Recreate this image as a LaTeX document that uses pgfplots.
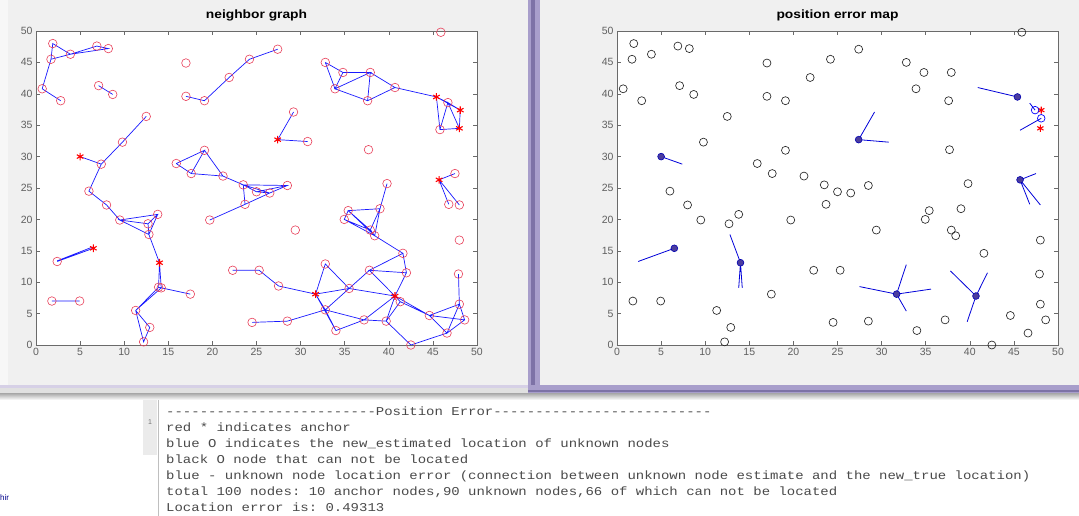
\documentclass[border=0pt]{standalone}
\usepackage{pgfplots}
\pgfplotsset{compat=1.18}
\usepackage{pgfplotstable}
\usepackage{graphicx}
\usepackage{fontspec}
\setmainfont{Liberation Sans}
\setmonofont{Liberation Mono}

\definecolor{figbg}{HTML}{F0F0F0}
\definecolor{axgray}{HTML}{6A6A6A}
\definecolor{ticktext}{HTML}{606060}
\definecolor{cmdtext}{HTML}{4A4A4A}
\definecolor{anchorfill}{HTML}{4B3C9E}
\definecolor{nodered}{HTML}{E8405A}
\definecolor{framepurple}{HTML}{A89ECB}
\definecolor{framedark}{HTML}{7D72A6}
\definecolor{framelight}{HTML}{D6D0E6}

% 66 nodes that can not be located (true positions)
\pgfplotstableread{
x y
1.9 48.0
1.7 45.5
3.9 46.3
6.9 47.6
8.2 47.2
0.7 40.8
2.8 38.9
7.1 41.3
8.7 39.9
12.5 36.4
9.8 32.3
17.0 44.9
17.0 39.6
19.1 38.9
19.1 31.0
15.9 28.9
17.6 27.3
21.2 26.9
6.0 24.5
45.9 49.8
27.4 47.1
24.2 45.5
21.9 42.6
32.8 45.0
34.8 43.4
37.9 43.4
33.9 40.8
37.6 38.9
37.7 31.1
23.5 25.5
25.0 24.4
26.5 24.2
28.5 25.4
39.8 25.7
8.0 22.3
9.5 19.9
13.8 20.8
12.7 19.3
19.7 19.9
1.8 7.0
4.95 7.0
17.5 8.1
11.3 5.5
12.9 2.8
12.2 0.5
23.7 22.4
35.4 21.4
34.95 20.0
39.0 21.7
29.4 18.3
37.9 18.3
38.4 17.4
41.6 14.6
48.0 16.7
47.9 11.3
48.0 6.5
48.6 4.0
46.6 1.9
44.6 4.7
42.5 0.0
37.2 4.0
34.0 2.3
28.5 3.8
24.5 3.6
22.3 11.9
25.3 11.9
}\lostnodes

% located unknown nodes (true positions)
\pgfplotstableread{
x y
7.4 28.8
2.4 13.3
12.8 17.6
13.9 9.2
14.2 9.1
29.2 37.1
30.8 32.4
27.5 9.4
35.5 9.0
32.8 12.9
32.8 5.6
37.8 11.9
42.0 11.5
39.7 3.8
40.7 41.0
45.8 34.3
46.7 38.6
47.5 27.3
48.0 22.3
46.8 22.4
41.3 6.9
}\locnodes

% anchors
\pgfplotstableread{
x y
5.0 30.0
6.5 15.4
14.0 13.1
27.4 32.7
31.7 8.1
40.7 7.8
45.4 39.5
48.1 37.4
48.0 34.5
45.7 26.3
}\anchornodes

% anchors drawn with an estimate on top (right plot)
\pgfplotstableread{
x y
5.0 30.0
6.5 15.4
14.0 13.1
27.4 32.7
31.7 8.1
40.7 7.8
45.4 39.5
45.7 26.3
}\anchorest

\pgfplotstableread{
x y
48.1 37.4
48.0 34.5
}\anchorplain

\pgfplotstableread{
x y
47.4 37.4
48.1 36.1
}\extraest

\pgfplotsset{myax/.style={
  scale only axis, width=441pt, height=314pt,
  xmin=0, xmax=50, ymin=0, ymax=50,
  xtick={0,5,...,50}, ytick={0,5,...,50},
  tick align=inside, major tick length=4pt,
  axis line style={axgray, line width=0.7pt},
  every tick/.style={axgray, line width=0.6pt},
  tick label style={font=\fontsize{10.5}{12}\selectfont, text=ticktext},
  /pgf/number format/assume math mode=true,
  axis background/.style={fill=white},
  clip=false,
  unbounded coords=jump,
  title style={font=\bfseries\fontsize{12}{14}\selectfont, at={(0.5,1)}, anchor=base, yshift=7pt},
  anchor=south west,
}}

\begin{document}
\begin{tikzpicture}
\useasboundingbox (0pt,0pt) rectangle (1079pt,-516pt);
\fill[white] (0pt,0pt) rectangle (1079pt,-516pt);
% left window
\fill[black!3] (0pt,0pt) rectangle (8pt,-386pt);
\fill[figbg] (8pt,0pt) rectangle (528pt,-386pt);
\fill[framelight] (0pt,-385pt) rectangle (528pt,-388pt);
\fill[black!12] (0pt,-388pt) rectangle (528pt,-394pt);
% right window
\fill[figbg] (540pt,0pt) rectangle (1079pt,-385pt);
\fill[framepurple] (528pt,0pt) rectangle (540pt,-393pt);
\fill[framedark] (531pt,0pt) rectangle (535pt,-390pt);
\fill[framepurple] (528pt,-385pt) rectangle (1079pt,-393pt);
\fill[framedark] (528pt,-390pt) rectangle (1079pt,-392pt);
\shade[top color=black!35, bottom color=white] (0pt,-393pt) rectangle (1079pt,-400pt);
% command window decorations
\fill[black!8] (143pt,-400pt) rectangle (157pt,-455pt);
\draw[black!25] (158pt,-400pt) -- (158pt,-516pt);
\node[anchor=base, inner sep=0pt, text=black!55, font=\fontsize{7}{8}\selectfont] at (150pt,-424pt) {1};
\node[anchor=base west, inner sep=0pt, text=blue!55!black, font=\fontsize{8}{9}\selectfont] at (0pt,-500pt) {hir};

% ---------------- left: neighbor graph ----------------
\begin{axis}[myax, at={(36pt,-345pt)}, title={\scalebox{1.15}[1]{neighbor graph}}]
\addplot[only marks, mark=o, nodered, mark size=4.3pt, mark options={line width=0.6pt}] table {\lostnodes};
\addplot[only marks, mark=o, nodered, mark size=4.3pt, mark options={line width=0.6pt}] table {\locnodes};
\addplot[blue!90!white, line width=0.7pt, no marks] coordinates {
(0.7,40.8) (1.7,45.5) (1.9,48.0) (3.9,46.3) (1.7,45.5) (nan,nan)
(0.7,40.8) (2.8,38.9) (nan,nan)
(3.9,46.3) (6.9,47.6) (8.2,47.2) (3.9,46.3) (nan,nan)
(7.1,41.3) (8.7,39.9) (nan,nan)
(17.0,39.6) (19.1,38.9) (21.9,42.6) (24.2,45.5) (27.4,47.1) (nan,nan)
(12.5,36.4) (9.8,32.3) (7.4,28.8) (6.0,24.5) (8.0,22.3) (9.5,19.9) (nan,nan)
(5.0,30.0) (7.4,28.8) (nan,nan)
(9.5,19.9) (13.8,20.8) (12.7,19.3) (9.5,19.9) (12.8,17.6) (13.8,20.8) (nan,nan)
(12.7,19.3) (12.8,17.6) (14.0,13.1) (13.9,9.2) (17.5,8.1) (14.2,9.1) (14.0,13.1) (nan,nan)
(13.9,9.2) (11.3,5.5) (14.2,9.1) (nan,nan)
(11.3,5.5) (12.9,2.8) (12.2,0.5) (11.3,5.5) (nan,nan)
(6.5,15.4) (2.4,13.3) (nan,nan)
(6.4,15.6) (2.4,13.4) (nan,nan)
(1.8,7.0) (4.95,7.0) (nan,nan)
(15.9,28.9) (19.1,31.0) (17.6,27.3) (15.9,28.9) (nan,nan)
(19.1,31.0) (21.2,26.9) (17.6,27.3) (nan,nan)
(21.2,26.9) (23.5,25.5) (25.0,24.4) (26.5,24.2) (28.5,25.4) (23.5,25.5) (26.5,24.2) (nan,nan)
(25.0,24.4) (28.5,25.4) (nan,nan)
(23.5,25.5) (23.7,22.4) (19.7,19.9) (nan,nan)
(23.7,22.4) (26.5,24.2) (nan,nan)
(27.4,32.7) (29.2,37.1) (nan,nan)
(27.4,32.7) (30.8,32.4) (nan,nan)
(39.8,25.7) (39.0,21.7) (nan,nan)
(45.7,26.3) (47.5,27.3) (nan,nan)
(45.7,26.3) (46.8,22.4) (nan,nan)
(45.7,26.3) (48.0,22.3) (nan,nan)
(32.8,45.0) (34.8,43.4) (33.9,40.8) (32.8,45.0) (nan,nan)
(34.8,43.4) (37.9,43.4) (33.9,40.8) (37.6,38.9) (37.9,43.4) (40.7,41.0) (37.6,38.9) (nan,nan)
(40.7,41.0) (45.4,39.5) (46.7,38.6) (48.1,37.4) (48.0,34.5) (45.8,34.3) (46.7,38.6) (48.0,34.5) (nan,nan)
(45.4,39.5) (45.8,34.3) (nan,nan)
(45.4,39.5) (48.1,37.4) (nan,nan)
(35.4,21.4) (34.95,20.0) (37.9,18.3) (35.4,21.4) (39.0,21.7) (37.9,18.3) (38.4,17.4) (34.95,20.0) (nan,nan)
(39.0,21.7) (38.4,17.4) (35.4,21.4) (nan,nan)
(38.4,17.4) (41.6,14.6) (37.8,11.9) (42.0,11.5) (41.6,14.6) (nan,nan)
(37.8,11.9) (40.7,7.8) (42.0,11.5) (nan,nan)
(37.8,11.9) (35.5,9.0) (32.8,12.9) (31.7,8.1) (nan,nan)
(22.3,11.9) (25.3,11.9) (27.5,9.4) (31.7,8.1) (35.5,9.0) (40.7,7.8) (nan,nan)
(32.8,5.6) (35.5,9.0) (nan,nan)
(32.8,5.6) (31.7,8.1) (34.0,2.3) (32.8,5.6) (37.2,4.0) (34.0,2.3) (nan,nan)
(37.2,4.0) (39.7,3.8) (40.7,7.8) (37.2,4.0) (nan,nan)
(40.7,7.8) (41.3,6.9) (39.7,3.8) (42.5,0.0) (46.6,1.9) (44.6,4.7) (40.7,7.8) (nan,nan)
(41.3,6.9) (44.6,4.7) (48.0,6.5) (46.6,1.9) (48.6,4.0) (48.0,6.5) (47.9,11.3) (nan,nan)
(44.6,4.7) (48.6,4.0) (nan,nan)
(24.5,3.6) (28.5,3.8) (32.8,5.6) (nan,nan)
};
\addplot[only marks, mark=asterisk, red, mark size=3.8pt, mark options={line width=1.1pt}] table {\anchornodes};
\end{axis}

% ---------------- right: position error map ----------------
\begin{axis}[myax, at={(617pt,-345pt)}, title={\scalebox{1.15}[1]{position error map}}]
\addplot[only marks, mark=o, black!85, mark size=4pt, mark options={line width=0.65pt}] table {\lostnodes};
\addplot[blue!85!black, line width=0.8pt, no marks] coordinates {
(5.0,30.0) (7.4,28.8) (nan,nan)
(6.5,15.4) (2.4,13.3) (nan,nan)
(14.0,13.1) (12.8,17.6) (nan,nan)
(14.0,13.1) (13.8,9.1) (nan,nan)
(14.0,13.1) (14.2,9.1) (nan,nan)
(27.4,32.7) (29.2,37.1) (nan,nan)
(27.4,32.7) (30.8,32.3) (nan,nan)
(31.7,8.1) (27.5,9.3) (nan,nan)
(31.7,8.1) (35.6,8.9) (nan,nan)
(31.7,8.1) (32.8,12.8) (nan,nan)
(31.7,8.1) (32.8,5.4) (nan,nan)
(40.7,7.8) (37.8,11.8) (nan,nan)
(40.7,7.8) (42.0,11.5) (nan,nan)
(40.7,7.8) (39.7,3.7) (nan,nan)
(45.4,39.5) (40.9,41.0) (nan,nan)
(45.7,26.3) (47.5,27.3) (nan,nan)
(45.7,26.3) (48.0,22.3) (nan,nan)
(45.7,26.3) (46.8,22.4) (nan,nan)
(48.1,36.1) (45.7,34.2) (nan,nan)
(47.4,37.4) (46.8,38.5) (nan,nan)
};
\addplot[only marks, mark=*, mark size=3.4pt, mark options={fill=anchorfill, draw=blue!70!black, line width=0.6pt}] table {\anchorest};
\addplot[only marks, mark=asterisk, red, mark size=3.6pt, mark options={line width=1.1pt}] table {\anchorplain};
\addplot[only marks, mark=o, blue, mark size=3.8pt, mark options={line width=0.7pt}] table {\extraest};
\end{axis}

% ---------------- command window text ----------------
\begin{scope}[every node/.style={anchor=base west, inner sep=0pt, text=cmdtext, font=\ttfamily\fontsize{12}{14}\selectfont}]
\node at (166pt,-415pt) {\scalebox{1.165}[1]{-------------------------Position Error--------------------------}};
\node at (166pt,-431pt) {\scalebox{1.165}[1]{red * indicates anchor}};
\node at (166pt,-447pt) {\scalebox{1.165}[1]{blue O indicates the new\_estimated location of unknown nodes}};
\node at (166pt,-463pt) {\scalebox{1.165}[1]{black O node that can not be located}};
\node at (166pt,-479pt) {\scalebox{1.165}[1]{blue - unknown node location error (connection between unknown node estimate and the new\_true location)}};
\node at (166pt,-495pt) {\scalebox{1.165}[1]{total 100 nodes: 10 anchor nodes,90 unknown nodes,66 of which can not be located}};
\node at (166pt,-511pt) {\scalebox{1.165}[1]{Location error is: 0.49313}};
\end{scope}
\end{tikzpicture}
\end{document}
